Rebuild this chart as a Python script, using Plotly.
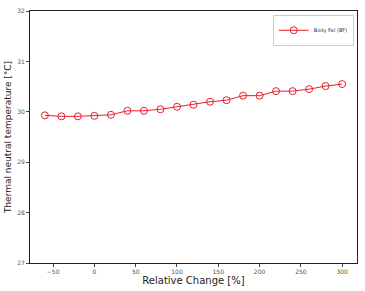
import plotly.graph_objects as go

rel_change = [-60, -40, -20, 0, 20, 40, 60, 80, 100, 120, 140, 160, 180, 200, 220, 240, 260, 280, 300]
temperature = [29.93, 29.91, 29.91, 29.92, 29.94, 30.02, 30.02, 30.05, 30.10, 30.14, 30.20, 30.23,
               30.32, 30.32, 30.41, 30.41, 30.45, 30.51, 30.55]
series_name = "Body Fat (BF)"
x_ticks = [-50, 0, 50, 100, 150, 200, 250, 300]
y_ticks = [27, 28, 29, 30, 31, 32]

fig = go.Figure()
fig.add_trace(go.Scatter(
    x=rel_change, y=temperature, mode="lines+markers", name=series_name,
    line=dict(color="#e8202a", width=1),
    marker=dict(symbol="circle-open", size=7, color="#e8202a", line=dict(width=1)),
))

axis_common = dict(
    showline=True, linecolor="#222", linewidth=1, mirror=True,
    ticks="outside", ticklen=3, tickcolor="#444", tickwidth=1,
    showgrid=False, zeroline=False,
    tickfont=dict(family="DejaVu Sans", size=6, color="#555"),
)
fig.update_layout(
    width=365, height=291,
    margin=dict(l=27, r=7, t=8, b=22),
    paper_bgcolor="white", plot_bgcolor="white",
    showlegend=True,
    legend=dict(x=0.99, y=0.985, xanchor="right", yanchor="top",
                bordercolor="#ccc", borderwidth=1, bgcolor="white",
                itemwidth=30, tracegroupgap=0,
                font=dict(family="DejaVu Sans", size=5, color="#333")),
    xaxis=dict(range=[-78, 318], tickvals=x_ticks,
               title=dict(text="Relative Change [%]", standoff=2,
                          font=dict(family="DejaVu Sans", size=10, color="#222")),
               **axis_common),
    yaxis=dict(range=[27, 32], tickvals=y_ticks,
               title=dict(text="Thermal neutral temperature [°C]", standoff=4,
                          font=dict(family="DejaVu Sans", size=9, color="#222")),
               **axis_common),
)
fig.write_html("out.html")
